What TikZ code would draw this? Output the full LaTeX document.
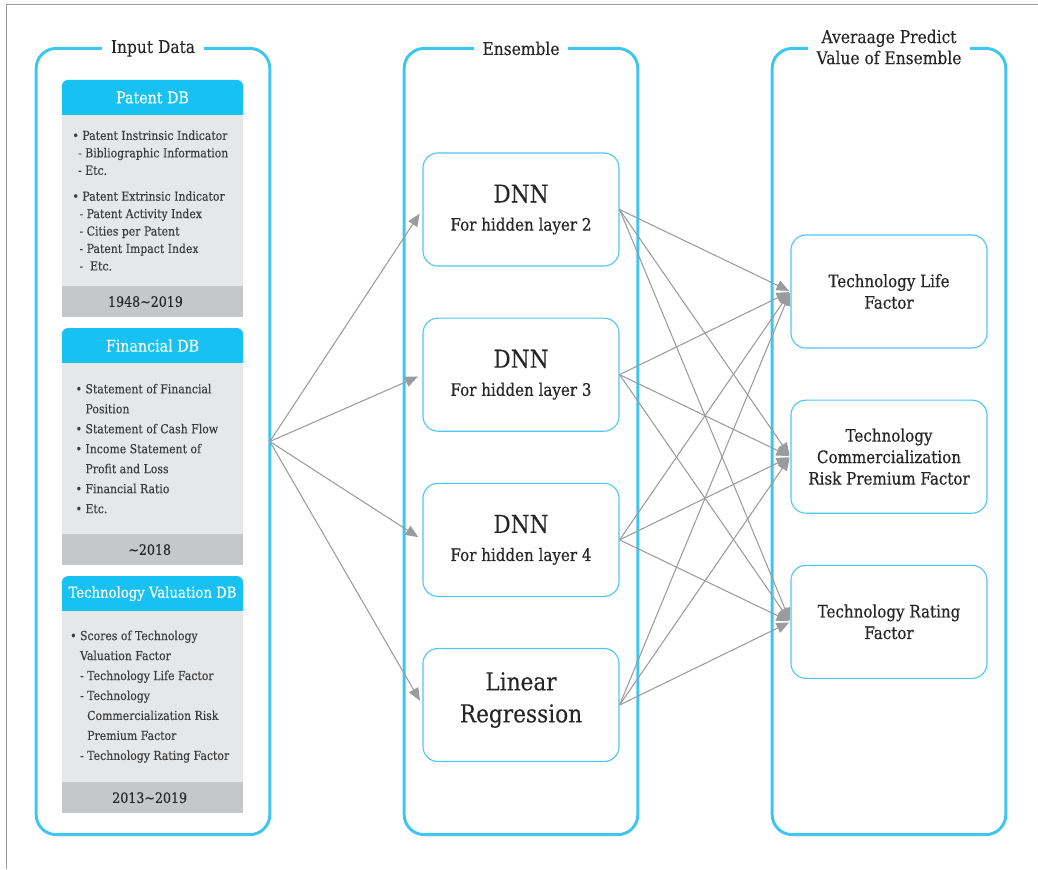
\documentclass[tikz,border=0pt]{standalone}
\usepackage{fontspec}
\setmainfont{DejaVu Serif}[FakeStretch=0.88, FakeBold=0.15]
\newfontfamily\labelfont{DejaVu Serif}[FakeStretch=0.88, FakeBold=0.5]
\usepackage{tikz}
\usetikzlibrary{arrows.meta,positioning,backgrounds}

\definecolor{panelcyan}{HTML}{3EC6F0}
\definecolor{headcyan}{HTML}{17C2F2}
\definecolor{bodygray}{HTML}{E6E7E8}
\definecolor{footgray}{HTML}{C6C7C9}
\definecolor{boxcyan}{HTML}{4DC8F2}
\definecolor{feedgray}{HTML}{9A9B9F}
\definecolor{inkgray}{HTML}{3C3C3C}

\begin{document}
\begin{tikzpicture}[
  x=0.025cm, y=-0.025cm,
  node distance=1.275cm,
  panel/.style={draw=panelcyan, line width=2.1pt, rounded corners=0.5cm, minimum width=5.84cm, minimum height=19.65cm, outer sep=0pt},
  paneltitle/.style={fill=white, inner xsep=6pt, inner ysep=1pt, align=center, text=black!85, font=\fontsize{12.5}{15}\selectfont},
  dbhead/.style={minimum width=4.525cm, minimum height=0.875cm, inner sep=0pt, outer sep=0pt, text=white, font=\fontsize{11.5}{14}\selectfont},
  dbbody/.style={fill=bodygray, minimum width=4.525cm, minimum height=4.275cm, inner sep=0pt, outer sep=0pt, align=left, text=inkgray, font=\fontsize{8.8}{12.4}\selectfont},
  dbfoot/.style={fill=footgray, minimum width=4.525cm, minimum height=0.775cm, inner sep=0pt, outer sep=0pt, text=black!85, font=\fontsize{10.2}{12}\selectfont},
  enbox/.style={draw=boxcyan, line width=0.8pt, rounded corners=0.375cm, minimum width=4.9cm, minimum height=2.825cm, align=center, text=black!85},
  feed/.style={draw=feedgray, line width=0.75pt, -{Triangle[length=9pt,width=7.5pt]}}
]
\useasboundingbox (0,0) rectangle (1038,869);
\draw[black!40, line width=0.6pt] (6,869) -- (6,4) -- (1038,4);

% three columns
\node[panel] (inputpanel) at (153,441.5) {};
\node[panel] (enspanel) at (521,441.5) {};
\node[panel] (avgpanel) at (889,441.5) {};
\node[paneltitle] (inputtitle) at (inputpanel.north) {Input Data};
\node[paneltitle] (enstitle) at (enspanel.north) {Ensemble};
\node[paneltitle] (avgtitle) at (889,47) {Averaage Predict\\Value of Ensemble};

% data sources
\node[dbhead] (patenthead) at (152.5,97.5) {Patent DB};
\node[dbbody, below=0pt of patenthead] (patentbody) {%
  \textbullet\ Patent Instrinsic Indicator\\
  \hspace*{4pt}- Bibliographic Information\hspace*{3pt}\mbox{}\\
  \hspace*{4pt}- Etc.\\[6pt]
  \textbullet\ Patent Extrinsic Indicator\\
  \hspace*{5pt}- Patent Activity Index\\
  \hspace*{5pt}- Cities per Patent\\
  \hspace*{5pt}- Patent Impact Index\\
  \hspace*{5pt}-\ \ Etc.};
\node[dbfoot, below=0pt of patentbody] (patentfoot) {1948\textasciitilde2019\hspace*{10pt}};

\node[dbhead, below=0.275cm of patentfoot] (finhead) {Financial DB};
\node[dbbody, below=0pt of finhead, font=\fontsize{8.8}{14.2}\selectfont] (finbody) {%
  \textbullet\ Statement of Financial\\
  \phantom{\textbullet\ }Position\\
  \textbullet\ Statement of Cash Flow\hspace*{8pt}\mbox{}\\
  \textbullet\ Income Statement of\\
  \phantom{\textbullet\ }Profit and Loss\\
  \textbullet\ Financial Ratio\\
  \textbullet\ Etc.};
\node[dbfoot, below=0pt of finbody] (finfoot) {\textasciitilde2018\hspace*{4pt}};

\node[dbhead, below=0.275cm of finfoot, font=\fontsize{10.7}{14}\selectfont] (techhead) {Technology Valuation DB};
\node[dbbody, below=0pt of techhead, font=\fontsize{8.8}{14.2}\selectfont] (techbody) {%
  \textbullet\ Scores of Technology\\
  \phantom{\textbullet\ }Valuation Factor\\
  \phantom{\textbullet\ }- Technology Life Factor\\
  \phantom{\textbullet\ }- Technology\\
  \phantom{\textbullet\ - }Commercialization Risk\\
  \phantom{\textbullet\ - }Premium Factor\\
  \phantom{\textbullet\ }- Technology Rating Factor\hspace*{4pt}\mbox{}};
\node[dbfoot, below=0pt of techbody] (techfoot) {2013\textasciitilde2019\hspace*{4pt}};

\begin{scope}[on background layer]
  \foreach \h in {patenthead,finhead,techhead} {
    \fill[headcyan, rounded corners=0.15cm] (\h.south west) rectangle (\h.north east);
    \fill[headcyan] (\h.south west) rectangle (\h.east);
  }
\end{scope}

% ensemble members
\node[enbox] (dnn2) at (521,209.5) {{\fontsize{17.5}{20}\selectfont DNN}\\[8pt]{\labelfont\fontsize{12.2}{14}\selectfont For hidden layer 2}};
\node[enbox, below=of dnn2] (dnn3) {{\fontsize{17.5}{20}\selectfont DNN}\\[8pt]{\labelfont\fontsize{12.2}{14}\selectfont For hidden layer 3}};
\node[enbox, below=of dnn3] (dnn4) {{\fontsize{17.5}{20}\selectfont DNN}\\[8pt]{\labelfont\fontsize{12.2}{14}\selectfont For hidden layer 4}};
\node[enbox, below=of dnn4, font=\fontsize{17.5}{22.8}\selectfont, text depth=11pt] (linreg) {Linear\\Regression};

% predicted factors
\node[enbox, font=\labelfont\fontsize{12.2}{15.3}\selectfont] (life) at (889,291.5) {Technology Life\\Factor};
\node[enbox, below=of life, font=\labelfont\fontsize{12.2}{15.3}\selectfont] (risk) {Technology\\Commercialization\\Risk Premium Factor};
\node[enbox, below=of risk, font=\labelfont\fontsize{12.2}{15.3}\selectfont] (rating) {Technology Rating\\Factor};

\foreach \t in {dnn2,dnn3,dnn4,linreg}
  \draw[feed, shorten >=3.5pt] (inputpanel.east) -- (\t.west);
\foreach \s in {dnn2,dnn3,dnn4,linreg}
  \foreach \t in {life,risk,rating}
    \draw[feed, shorten >=1pt] (\s.east) -- (\t.west);
\end{tikzpicture}
\end{document}
